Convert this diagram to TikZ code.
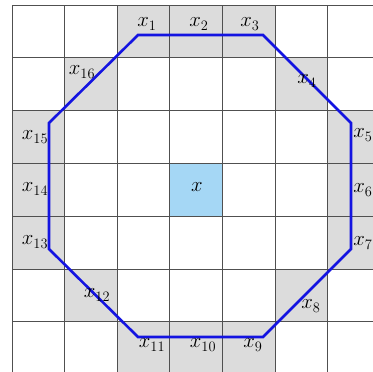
\documentclass[tikz,border=0pt]{standalone}
\definecolor{cellgray}{RGB}{220,220,220}
\definecolor{cellblue}{RGB}{165,215,245}
\definecolor{polyblue}{RGB}{20,20,225}
\definecolor{gridcol}{RGB}{80,80,80}
\newcommand\xlbl[1]{$x_{#1}$}
\begin{document}
\begin{tikzpicture}[x=1pt,y=-1pt,
  lbl/.style={inner sep=0pt,font=\fontsize{20}{20}\selectfont},
  gridline/.style={draw=gridcol,line width=1pt},
  poly/.style={draw=polyblue,line width=2.6pt,line join=miter}]
\useasboundingbox (0,0) rectangle (373,372);
\fill[white] (0,0) rectangle (373,372);
\begin{scope}
\clip (0,0) rectangle (373,372);
% gray cells (col,row)
\foreach \c/\r in {2/0,3/0,4/0,1/1,5/1,0/2,6/2,0/3,6/3,0/4,6/4,1/5,5/5,2/6,3/6,4/6}
  \fill[cellgray] ({12+52.6*\c},{5+52.8*\r}) rectangle ++(52.6,52.8);
\fill[cellblue] ({12+52.6*3},{5+52.8*3}) rectangle ++(52.6,52.8);
\foreach \i in {0,...,7} {
  \draw[gridline] ({12+52.6*\i},5) -- ({12+52.6*\i},380);
  \draw[gridline] (12,{5+52.8*\i}) -- (380,{5+52.8*\i});
}
\end{scope}
% octagon
\coordinate (p1) at (138,35);
\coordinate (p2) at (263,35);
\coordinate (p3) at (351,123);
\coordinate (p4) at (351,249);
\coordinate (p5) at (263,337);
\coordinate (p6) at (138,337);
\coordinate (p7) at (49,249);
\coordinate (p8) at (49,123);
\draw[poly] (p1) -- (p2) -- (p3) -- (p4) -- (p5) -- (p6) -- (p7) -- (p8) -- cycle;
% labels
\node[lbl] (x)   at (197,187) {$x$};
\node[lbl] (l1)  at (147,24) {\xlbl{1}};
\node[lbl] (l2)  at (199,24) {\xlbl{2}};
\node[lbl] (l3)  at (250,24) {\xlbl{3}};
\node[lbl] (l4)  at (307,81) {\xlbl{4}};
\node[lbl] (l5)  at (363,135) {\xlbl{5}};
\node[lbl] (l6)  at (363,190) {\xlbl{6}};
\node[lbl] (l7)  at (363,243) {\xlbl{7}};
\node[lbl] (l8)  at (311,306) {\xlbl{8}};
\node[lbl] (l9)  at (253,345) {\xlbl{9}};
\node[lbl] (l10) at (203,345) {\xlbl{10}};
\node[lbl] (l11) at (152,345) {\xlbl{11}};
\node[lbl] (l12) at (97,295) {\xlbl{12}};
\node[lbl] (l13) at (35,242) {\xlbl{13}};
\node[lbl] (l14) at (35,189) {\xlbl{14}};
\node[lbl] (l15) at (35,137) {\xlbl{15}};
\node[lbl] (l16) at (82,72) {\xlbl{16}};
\end{tikzpicture}
\end{document}
